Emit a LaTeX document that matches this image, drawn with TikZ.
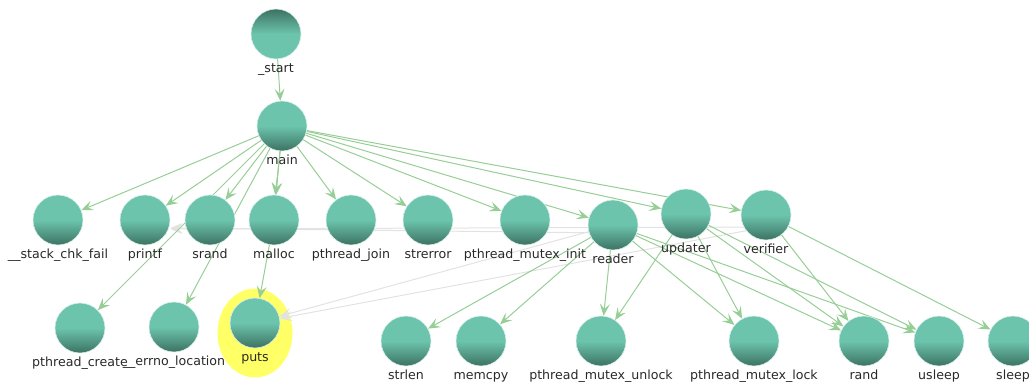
\documentclass[tikz,border=0pt]{standalone}
\usepackage{fontspec}
\setmainfont{DejaVu Sans}
\usetikzlibrary{arrows.meta,shapes.geometric}
\definecolor{edgegreen}{RGB}{150,206,150}
\definecolor{edgegray}{RGB}{226,226,226}
\definecolor{nodelt}{RGB}{108,196,172}
\definecolor{nodedk}{RGB}{60,114,98}
\definecolor{labeltext}{RGB}{40,40,40}
\definecolor{hlyellow}{RGB}{255,255,102}
\pgfdeclareverticalshading{fnshade}{100bp}{color(0bp)=(nodedk); color(25bp)=(nodedk); color(50bp)=(nodelt); color(100bp)=(nodelt)}
\pgfdeclareverticalshading{fnshadeinv}{100bp}{color(0bp)=(nodelt); color(50bp)=(nodelt); color(75bp)=(nodedk); color(100bp)=(nodedk)}
\pgfdeclarelayer{hl}
\pgfdeclarelayer{edges}
\pgfsetlayers{hl,edges,main}
\tikzset{
  lab/.style={font=\fontsize{12.6}{14}\selectfont, text=labeltext, inner sep=0pt, text height=9pt, text depth=3pt, label distance=4pt},
  fn/.style={circle, minimum size=50pt, inner sep=0pt, shading=fnshade, draw=white!75!nodelt, line width=0.6pt, label={[lab]below:#1}},
  fninv/.style={fn=#1, shading=fnshadeinv},
  ge/.style={draw=edgegreen, line width=1pt, -{Stealth[length=12pt,width=10pt,inset=5pt]}},
  gr/.style={draw=edgegray, line width=1pt, -{Stealth[length=12pt,width=10pt,inset=5pt]}},
  hlnode/.style={ellipse, fill=hlyellow, minimum width=75pt, minimum height=89pt, inner sep=0pt}
}
\begin{document}
\begin{tikzpicture}[x=1pt,y=-1pt]
\useasboundingbox (0,0) rectangle (1029,385);
% nodes
\node[fninv=\_start] (start) at (276,34) {};
\node[fn=main] (main) at (282,126) {};
\node[fn=\_\_stack\_chk\_fail] (stk) at (58,220) {};
\node[fn=printf] (printf) at (145,220) {};
\node[fn=srand] (srand) at (210,220) {};
\node[fn=malloc] (malloc) at (274,220) {};
\node[fn=pthread\_join] (pjoin) at (351,220) {};
\node[fn=strerror] (strerror) at (428,220) {};
\node[fn=pthread\_mutex\_init] (pinit) at (525,220) {};
\node[fn=reader] (reader) at (613,225) {};
\node[fn=updater] (updater) at (686,214) {};
\node[fn=verifier] (verifier) at (766,215) {};
\node[fn=pthread\_create] (pcreate) at (80,328) {};
\node[fn=\_\_errno\_location] (errno) at (174,327) {};
\node[fn=puts] (puts) at (255,323) {};
\node[fn=strlen] (strlen) at (406,341) {};
\node[fn=memcpy] (memcpy) at (481,341) {};
\node[fn=pthread\_mutex\_unlock] (unlock) at (601,341) {};
\node[fn=pthread\_mutex\_lock] (lock) at (754,341) {};
\node[fn=rand] (rand) at (864,341) {};
\node[fn=usleep] (usleep) at (939,341) {};
\node[fn=sleep] (sleep) at (1013,341) {};
\begin{pgfonlayer}{hl}
\node[hlnode] (putshl) at (255,333) {};
\end{pgfonlayer}
\begin{pgfonlayer}{edges}
% gray (dimmed) edges
\draw[gr] ([yshift=-8pt]reader.center) -- ([yshift=-8pt]printf.east);
\draw[gr] ([yshift=-12pt]verifier.center) -- ([yshift=-9pt]printf.east);
\draw[gr] (reader) -- (puts);
\draw[gr] ([yshift=-12pt]verifier.center) -- (puts);
% green edges
\draw[ge] (start) -- (main);
\draw[ge] (main) -- (stk);
\draw[ge] (main) -- (printf);
\draw[ge] (main) -- (srand);
\draw[ge] (main) -- (malloc);
\draw[ge] ([xshift=1.2pt]main.center) -- ([xshift=1.2pt]malloc.north);
\draw[ge] (main) -- (pjoin);
\draw[ge] (main) -- (strerror);
\draw[ge] (main) -- (pinit);
\draw[ge] (main) -- (reader);
\draw[ge] (main) -- (updater);
\draw[ge] (main) -- (verifier);
\draw[ge] (main) -- (pcreate);
\draw[ge] (main) -- (errno);
\draw[ge] (malloc) -- (puts);
\draw[ge] (reader) -- (strlen);
\draw[ge] (reader) -- (memcpy);
\draw[ge] (reader) -- (unlock);
\draw[ge] (reader) -- (lock);
\draw[ge] (reader) -- (rand);
\draw[ge] (reader) -- (usleep);
\draw[ge] (updater) -- (unlock);
\draw[ge] (updater) -- (lock);
\draw[ge] (updater) -- (rand);
\draw[ge] (updater) -- (usleep);
\draw[ge] (verifier) -- (rand);
\draw[ge] (verifier) -- (sleep);
\end{pgfonlayer}
\end{tikzpicture}
\end{document}
